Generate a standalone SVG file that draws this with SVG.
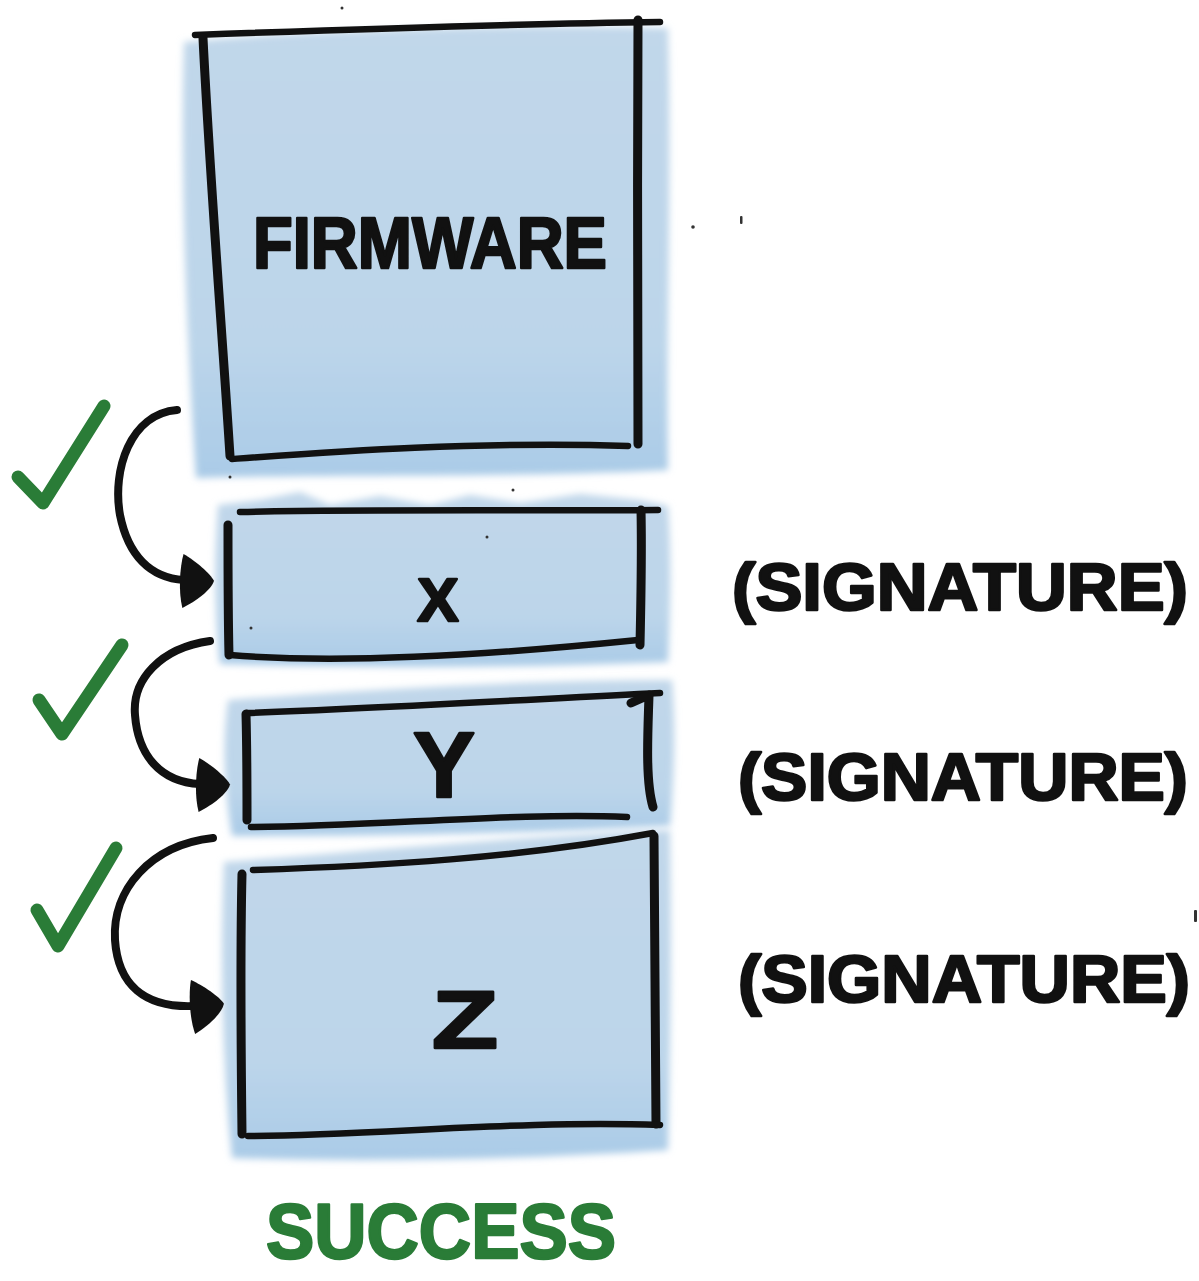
<svg xmlns="http://www.w3.org/2000/svg" width="1199" height="1281" viewBox="0 0 1199 1281">
  <style>
    .ink { fill: none; stroke: #111; stroke-width: 6.5; stroke-linecap: round; stroke-linejoin: round; }
    .side { fill: none; stroke: #111; stroke-width: 9; stroke-linecap: round; stroke-linejoin: round; }
    .wash { fill: url(#washGrad); filter: url(#soft); }
    .hand { font-family: "Liberation Sans", "DejaVu Sans", sans-serif; font-weight: bold; fill: #111; stroke: #111; stroke-width: 2.5; stroke-linejoin: round; }
    .green { fill: #2a7c37; stroke: #2a7c37; }
    .check { fill: none; stroke: #2a7c37; stroke-width: 13; stroke-linecap: round; stroke-linejoin: round; }
    .arc { fill: none; stroke: #111; stroke-width: 8; stroke-linecap: round; }
    .speck { fill: #333; }
  </style>
  <defs>
    <linearGradient id="washGrad" x1="0" y1="0" x2="0" y2="1">
      <stop offset="0" stop-color="#c1d7ea"/>
      <stop offset="0.7" stop-color="#bcd5ea"/>
      <stop offset="1" stop-color="#aacbe7"/>
    </linearGradient>
    <filter id="soft" x="-10%" y="-10%" width="120%" height="120%">
      <feGaussianBlur stdDeviation="3.5"/>
    </filter>
    <marker id="head" markerUnits="userSpaceOnUse" viewBox="-6 -32 44 64" refX="0" refY="0" markerWidth="44" markerHeight="64" orient="auto">
      <path d="M -2 -26 C 10 -20 26 -8 30 -1 C 28 8 14 20 0 28 C -5 12 -5 -12 -2 -26 Z" fill="#111"/>
    </marker>
  </defs>

  <rect width="1199" height="1281" fill="#fff"/>

  <!-- Firmware block -->
  <g id="node-firmware">
    <path class="wash" d="M 184 42 C 300 30 520 24 668 28 C 672 170 666 330 668 470 C 520 478 330 474 196 478 C 186 330 180 170 184 42 Z"/>
    <path class="ink" d="M 195 35 C 330 30 500 24 660 22"/>
    <path class="side" d="M 203 38 C 210 180 222 330 230 456"/>
    <path class="side" d="M 638 20 C 637 160 638 310 638 444"/>
    <path class="ink" d="M 232 459 C 330 452 480 441 628 446"/>
    <text class="hand" x="253" y="268" font-size="72" textLength="354" lengthAdjust="spacingAndGlyphs">FIRMWARE</text>
  </g>

  <!-- X block -->
  <g id="node-x">
    <path class="wash" d="M 218 505 L 260 500 L 300 492 L 330 505 L 380 496 L 430 505 L 470 495 L 520 503 L 580 494 L 640 500 L 668 506 C 672 560 670 620 668 662 C 520 668 360 668 220 664 C 214 610 214 560 218 505 Z"/>
    <path class="ink" d="M 240 512 C 380 509 520 511 658 510"/>
    <path class="side" d="M 228 525 C 228 570 228 615 229 655"/>
    <path class="side" d="M 641 510 C 642 555 641 600 640 645"/>
    <path class="ink" d="M 230 655 C 350 665 520 652 638 640"/>
    <text class="hand" x="438" y="621" font-size="62" text-anchor="middle">X</text>
  </g>

  <!-- Y block -->
  <g id="node-y">
    <path class="wash" d="M 228 700 C 360 690 520 680 672 680 C 676 730 674 780 670 826 C 520 834 360 836 232 836 C 224 790 222 740 228 700 Z"/>
    <path class="ink" d="M 247 713 C 380 708 520 700 660 693"/>
    <path class="side" d="M 246 714 C 247 750 247 790 247 820"/>
    <path class="side" d="M 631 703 L 649 695 C 648 730 645 780 653 807"/>
    <path class="ink" d="M 251 827 C 380 826 520 812 627 817"/>
    <text class="hand" x="444" y="797" font-size="92" text-anchor="middle" textLength="62" lengthAdjust="spacingAndGlyphs">Y</text>
  </g>

  <!-- Z block -->
  <g id="node-z">
    <path class="wash" d="M 224 862 C 360 852 520 836 670 830 C 672 950 670 1060 668 1150 C 520 1160 360 1162 232 1158 C 222 1060 220 960 224 862 Z"/>
    <path class="ink" d="M 253 870 C 380 866 520 858 653 833"/>
    <path class="side" d="M 242 874 C 240 960 241 1050 242 1134"/>
    <path class="side" d="M 654 836 C 655 930 655 1030 656 1124"/>
    <path class="ink" d="M 248 1136 C 380 1135 520 1120 660 1125"/>
    <text class="hand" x="465" y="1048" font-size="82" text-anchor="middle" textLength="66" lengthAdjust="spacingAndGlyphs">Z</text>
  </g>

  <!-- Signature notes -->
  <g id="labels">
    <text class="hand" x="732" y="610" font-size="66" textLength="456" lengthAdjust="spacingAndGlyphs">(SIGNATURE)</text>
    <text class="hand" x="738" y="800" font-size="66" textLength="450" lengthAdjust="spacingAndGlyphs">(SIGNATURE)</text>
    <text class="hand" x="738" y="1002" font-size="66" textLength="452" lengthAdjust="spacingAndGlyphs">(SIGNATURE)</text>
    <text class="hand green" x="266" y="1258" font-size="78" textLength="350" lengthAdjust="spacingAndGlyphs">SUCCESS</text>
  </g>

  <!-- Verification ticks -->
  <g id="checks">
    <path class="check" d="M 18 477 L 43 503 L 104 406"/>
    <path class="check" d="M 39 700 L 62 734 L 122 645"/>
    <path class="check" d="M 37 910 L 58 946 L 116 848"/>
  </g>

  <!-- Chain-of-trust arrows -->
  <g id="connectors">
    <path class="arc" marker-end="url(#head)" d="M 177 410 C 130 414 112 470 120 515 C 128 555 150 578 184 580"/>
    <path class="arc" marker-end="url(#head)" d="M 210 641 C 160 648 132 680 135 715 C 138 755 160 782 200 784"/>
    <path class="arc" marker-end="url(#head)" d="M 213 838 C 150 845 112 890 115 940 C 118 985 145 1008 194 1006"/>
  </g>

  <!-- Stray pen specks -->
  <g id="specks">
    <circle class="speck" cx="342" cy="8" r="1.5"/>
    <circle class="speck" cx="693" cy="227" r="1.8"/>
    <rect class="speck" x="740" y="216" width="2.5" height="8" rx="1"/>
    <circle class="speck" cx="230" cy="477" r="1.5"/>
    <circle class="speck" cx="513" cy="490" r="1.5"/>
    <circle class="speck" cx="487" cy="537" r="1.5"/>
    <circle class="speck" cx="251" cy="628" r="1.5"/>
    <rect class="speck" x="1194" y="910" width="3" height="12" rx="1"/>
  </g>
</svg>
